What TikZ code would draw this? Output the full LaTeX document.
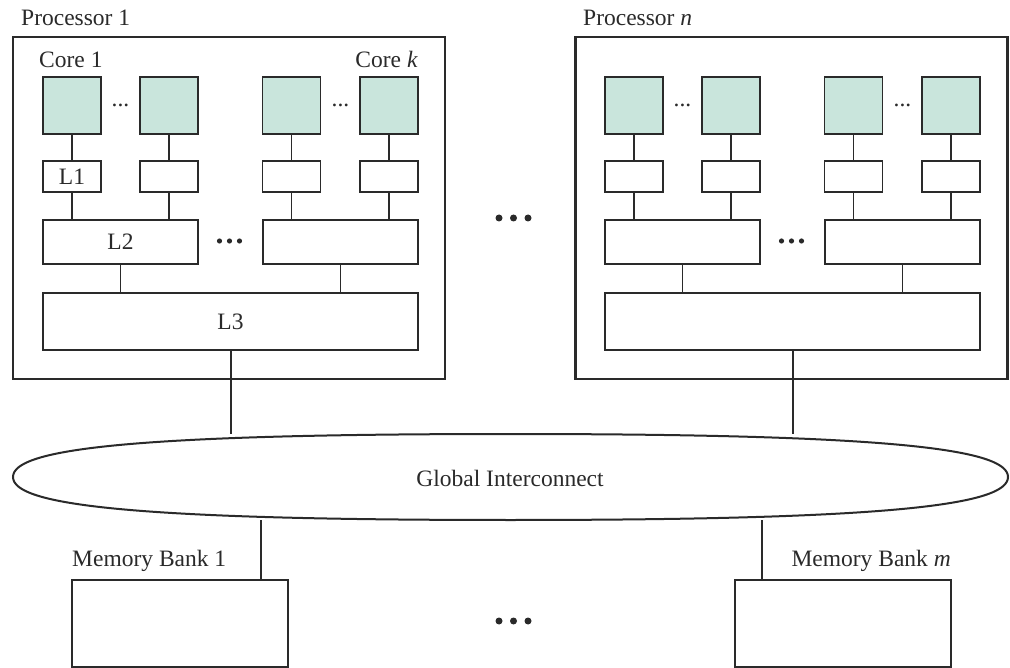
\documentclass[tikz,border=0pt]{standalone}
\usepackage{fontspec}
\setmainfont{Liberation Serif}
\definecolor{ink}{HTML}{2A2A2A}
\definecolor{corefill}{HTML}{C9E5DC}
\tikzset{
  txt/.style={font=\fontsize{23.5}{28}\selectfont, inner sep=0pt, text=ink},
  cachebox/.style={draw=ink, line width=1.3pt, inner sep=0pt, fill=white,
                   font=\fontsize{23.5}{28}\selectfont, text=ink},
  corebox/.style={cachebox, fill=corefill, minimum width=58pt, minimum height=57pt},
  lonebox/.style={cachebox, minimum width=58pt, minimum height=31pt},
  ltwobox/.style={cachebox, minimum width=155pt, minimum height=44pt},
  lthreebox/.style={cachebox, minimum width=375pt, minimum height=57pt},
  procbox/.style={draw=ink, line width=2.2pt, inner sep=0pt},
  membox/.style={draw=ink, line width=2pt, inner sep=0pt,
                 minimum width=216pt, minimum height=87pt},
  wire/.style={draw=ink, line width=1.3pt},
  bus/.style={draw=ink, line width=2pt},
  memwire/.style={draw=ink, line width=1.5pt},
  bigdot/.style={fill=ink},
}
% cores, private caches and shared caches of one processor
\newcommand{\chipinside}[3]{%
  \node[corebox] (c1) at (72,105.5) {};
  \node[corebox] (c2) at (169,105.5) {};
  \node[corebox] (c3) at (291.5,105.5) {};
  \node[corebox] (c4) at (389,105.5) {};
  \node[txt, anchor=base] (d12) at (120.5,107) {...};
  \node[txt, anchor=base] (d34) at (340.5,107) {...};
  \node[lonebox] (a1) at (72,176.5) {#1};
  \node[lonebox] (a2) at (169,176.5) {};
  \node[lonebox] (a3) at (291.5,176.5) {};
  \node[lonebox] (a4) at (389,176.5) {};
  \node[ltwobox] (b1) at (120.5,242) {#2};
  \node[ltwobox] (b2) at (340.5,242) {};
  \fill[bigdot] (219.5,241) circle (2.6pt) (229.5,241) circle (2.6pt) (239.5,241) circle (2.6pt);
  \node[lthreebox] (l3) at (230.5,321.5) {#3};
  \foreach \i in {1,...,4} {
    \draw[wire] (c\i.south) -- (a\i.north);
  }
  \draw[wire] (a1.south) -- (a1.south |- b1.north);
  \draw[wire] (a2.south) -- (a2.south |- b1.north);
  \draw[wire] (a3.south) -- (a3.south |- b2.north);
  \draw[wire] (a4.south) -- (a4.south |- b2.north);
  \draw[wire] (b1.south) -- (b1.south |- l3.north);
  \draw[wire] (b2.south) -- (b2.south |- l3.north);
}
\begin{document}
\begin{tikzpicture}[x=1pt, y=-1pt]
  \useasboundingbox (0,0) rectangle (1010,668);
  \fill[white] (0,0) rectangle (1010,668);

  % processors
  \node[procbox, minimum width=432pt, minimum height=342pt] (p1) at (229,208) {};
  \node[procbox, minimum width=432pt, minimum height=342pt] (pn) at (791.5,208) {};
  \node[txt, anchor=base west] (p1lbl) at (21,26) {Processor 1};
  \node[txt, anchor=base west] (pnlbl) at (583,26) {Processor \textit{n}};

  \begin{scope}[name prefix=pa-]
    \chipinside{L1}{L2}{L3}
  \end{scope}
  \begin{scope}[xshift=562pt, name prefix=pb-]
    \chipinside{}{}{}
  \end{scope}
  \node[txt, anchor=base west] (core1) at (39,68) {Core 1};
  \node[txt, anchor=base east] (corek) at (418,68) {Core \textit{k}};

  % dots between the processors
  \fill[bigdot] (499,218) circle (3.5pt) (513.5,218) circle (3.5pt) (528,218) circle (3.5pt);

  % global interconnect
  \draw[ink, line width=2pt, fill=white]
    (13,477) .. controls (13,449) and (130,434) .. (510.5,434)
    .. controls (891,434) and (1008,449) .. (1008,477)
    .. controls (1008,505) and (891,520) .. (510.5,520)
    .. controls (130,520) and (13,505) .. (13,477) -- cycle;
  \coordinate (gtop) at (510.5,434);
  \coordinate (gbot) at (510.5,520);
  \node[txt] (gi) at (510,478) {Global Interconnect};

  \draw[bus] (pa-l3.south) -- (pa-l3.south |- gtop);
  \draw[bus] (pb-l3.south) -- (pb-l3.south |- gtop);

  % memory banks
  \node[membox] (m1) at (180,623.5) {};
  \node[membox] (mm) at (843,623.5) {};
  \node[txt, anchor=base west] (m1lbl) at (72,566) {Memory Bank 1};
  \node[txt, anchor=base east] (mmlbl) at (951,566) {Memory Bank \textit{m}};
  \coordinate (m1top) at ([xshift=-28pt]m1.north east);
  \coordinate (mmtop) at ([xshift=28pt]mm.north west);
  \draw[memwire] (m1top) -- (m1top |- gbot);
  \draw[memwire] (mmtop) -- (mmtop |- gbot);

  \fill[bigdot] (499,621) circle (3.5pt) (513.5,621) circle (3.5pt) (528,621) circle (3.5pt);
\end{tikzpicture}
\end{document}
